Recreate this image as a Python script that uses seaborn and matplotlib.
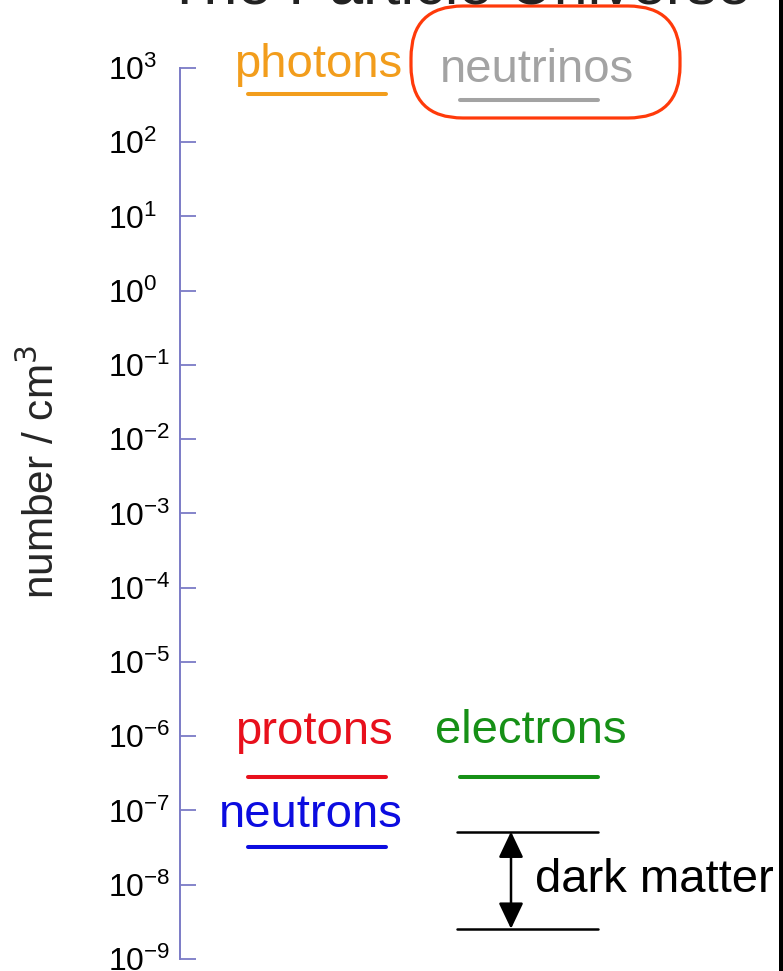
import numpy as np
import pandas as pd
import matplotlib
matplotlib.use('Agg')
import matplotlib.pyplot as plt
import seaborn as sns
from matplotlib.patches import FancyBboxPatch, Rectangle
from matplotlib.ticker import LogLocator, NullLocator

# Data (number density per cm^3)
particles = ['photons', 'neutrinos', 'protons', 'electrons', 'neutrons']
density = [447, 371, 2.8e-7, 2.8e-7, 3.2e-8]
column = [0, 1, 0, 1, 0]
colors = ['#f29d1c', '#a3a3a3', '#e8101c', '#169016', '#0c0ce0']
label_gap_px = [17, 18, 33, 34, 20]   # gap between line and label baseline
label_dx_px = [1, 8, -3, 2, -6]       # small horizontal nudges of the labels

dark_matter = [5.2e-8, 2.55e-9]  # upper and lower bound
dm_column = 1

sns.set_theme(style='white')
plt.rcParams['font.family'] = ['Liberation Sans', 'DejaVu Sans']

fig = plt.figure(figsize=(7.83, 9.71), dpi=100)
fig.patch.set_facecolor('white')
ax = fig.add_axes([180 / 783, 12 / 971, 603 / 783, 891 / 971])
ax.set_yscale('log')

half = 0.326
rows = []
for name, d, c in zip(particles, density, column):
    rows.append({'seg': name, 'x': c - half, 'y': d})
    rows.append({'seg': name, 'x': c + half, 'y': d})
df = pd.DataFrame(rows)
sns.lineplot(data=df, x='x', y='y', hue='seg', palette=dict(zip(particles, colors)),
             estimator=None, sort=False, legend=False, lw=2.9, ax=ax)

dm_rows = []
for i, d in enumerate(dark_matter):
    dm_rows.append({'seg': f'dm{i}', 'x': dm_column - half - 0.01, 'y': d})
    dm_rows.append({'seg': f'dm{i}', 'x': dm_column + half, 'y': d})
dm_df = pd.DataFrame(dm_rows)
sns.lineplot(data=dm_df, x='x', y='y', hue='seg', palette=['black', 'black'],
             estimator=None, sort=False, legend=False, lw=1.8, ax=ax)

# labels above lines
for name, d, c, col, gap, dx in zip(particles, density, column, colors,
                                    label_gap_px, label_dx_px):
    ax.annotate(name, xy=(c, d), xytext=(dx * 0.72, gap * 0.72),
                textcoords='offset points', ha='center', va='baseline',
                fontsize=34, color=col, annotation_clip=False)

# dark matter arrow
arrow_x = dm_column - 0.083
ax.annotate('', xy=(arrow_x, dark_matter[1]), xytext=(arrow_x, dark_matter[0]),
            arrowprops=dict(arrowstyle='<|-|>,head_length=0.8,head_width=0.38',
                            mutation_scale=20, lw=1.8, color='black',
                            shrinkA=0, shrinkB=0))
ax.text(dm_column + 0.031, np.sqrt(dark_matter[0] * dark_matter[1]), 'dark matter',
        ha='left', va='center', fontsize=34, color='black')

ax.set_xlim(-0.648, 2.203)
ax.set_ylim(1e-9, 1e3)
ax.set_xlabel('')
ax.set_ylabel('number / cm$^3$', fontsize=30.5)
ax.yaxis.set_label_coords(-0.194, 0.547)
ax.yaxis.set_major_locator(LogLocator(base=10, numticks=20))
ax.yaxis.set_minor_locator(NullLocator())
ax.set_xticks([])

axis_col = '#7b7bc6'
for s in ['top', 'right', 'bottom']:
    ax.spines[s].set_visible(False)
ax.spines['left'].set_color(axis_col)
ax.spines['left'].set_linewidth(1.4)
ax.tick_params(axis='y', which='major', left=True, direction='in', length=11.5,
               width=1.3, color=axis_col, labelsize=23, pad=52, labelcolor='black')
for lab in ax.get_yticklabels():
    lab.set_horizontalalignment('left')
ax.patch.set_alpha(0)

# title, cut by the top edge
fig.text(458 / 783, 1 - 3 / 971, 'The Particle Universe', ha='center', va='baseline',
         fontsize=44, color='#222222')

# red highlight around neutrinos
box = FancyBboxPatch((4.11, (971 - 118) / 100), 2.69, 1.12,
                     boxstyle='round,pad=0,rounding_size=0.52',
                     transform=fig.dpi_scale_trans, fill=False,
                     edgecolor='#ff3a0a', lw=2.3)
fig.patches.append(box)

# dark strip at the right edge
fig.patches.append(Rectangle((779 / 783, 0), 4 / 783, 1, transform=fig.transFigure,
                             facecolor='black', edgecolor='none'))

fig.savefig('out.png', dpi=100)
